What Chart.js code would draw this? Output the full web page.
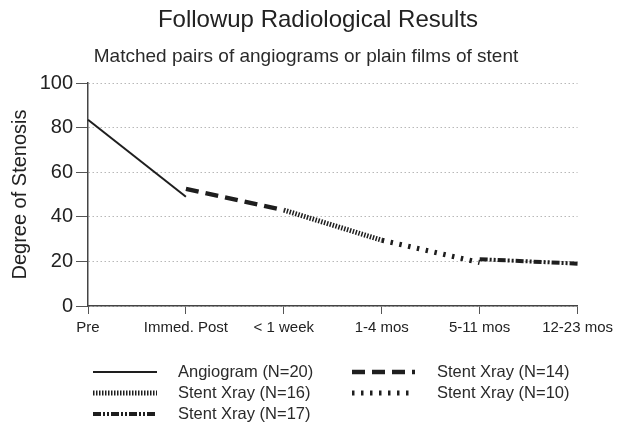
<!DOCTYPE html>
<html>
<head>
<meta charset="utf-8">
<script src="https://cdn.jsdelivr.net/npm/chart.js@4"></script>
<style>
  html, body { margin: 0; padding: 0; background: #fff; }
  #wrap { width: 618px; height: 437px; }
</style>
</head>
<body>
<div id="wrap"><canvas id="stenosisChart" width="618" height="437"></canvas></div>
<script>
/*====================================
        FOLLOWUP RADIOLOGICAL DATA
====================================*/

const periods = ["Pre", "Immed. Post", "< 1 week", "1-4 mos", "5-11 mos", "12-23 mos"];

const angiogram = [83.5, 49, null, null, null, null];
const stentXray14 = [null, 52.5, 43, null, null, null];
const stentXray16 = [null, null, 43, 29.5, null, null];
const stentXray10 = [null, null, null, 29.5, 19.5, null];
const stentXray17 = [null, null, null, null, 21, 19];

const yTicks = [0, 20, 40, 60, 80, 100];

const chartTitle = "Followup Radiological Results";
const chartSubtitle = "Matched pairs of angiograms or plain films of stent";

const FONT = "'Liberation Sans', Arial, sans-serif";
const INK = "#1e1e1e";


/*====================================
        TITLES (drawn, off-centre like the print)
====================================*/

const headings = {
    id: "headings",
    afterDraw(chart){
        const ctx = chart.ctx;
        ctx.save();
        ctx.textAlign = "center";
        ctx.textBaseline = "middle";
        ctx.fillStyle = "#222";
        ctx.font = "24px " + FONT;
        ctx.fillText(chartTitle, 318, 20);
        ctx.fillStyle = "#2a2a2a";
        ctx.font = "19px " + FONT;
        ctx.fillText(chartSubtitle, 306, 57);
        ctx.restore();
    }
};


/*====================================
        LEGEND (two columns, drawn)
====================================*/

const sideLegend = {
    id: "sideLegend",
    afterDraw(chart){
        const ctx = chart.ctx;
        const top = chart.chartArea.bottom + 66;
        const rowGap = 21;
        const cols = [{x: 93, w: 64, tx: 178}, {x: 352, w: 63, tx: 437}];

        chart.data.datasets.forEach((ds, i) => {
            const col = cols[i % 2];
            const y = top + Math.floor(i / 2) * rowGap;
            ctx.save();
            ctx.strokeStyle = ds.borderColor;
            ctx.lineWidth = ds.borderWidth;
            ctx.setLineDash(ds.borderDash || []);
            ctx.beginPath();
            ctx.moveTo(col.x, y);
            ctx.lineTo(col.x + col.w, y);
            ctx.stroke();
            ctx.setLineDash([]);
            ctx.fillStyle = "#2a2a2a";
            ctx.font = "16.5px " + FONT;
            ctx.textBaseline = "middle";
            ctx.fillText(ds.label, col.tx, y);
            ctx.restore();
        });
    }
};


/*====================================
            STENOSIS CHART
====================================*/

const lineStyle = (label, data, width, dash) => ({
    label: label,
    data: data,
    borderColor: INK,
    borderWidth: width,
    borderDash: dash,
    borderCapStyle: "butt",
    pointRadius: 0,
    tension: 0,
    spanGaps: false,
    fill: false
});

new Chart(document.getElementById("stenosisChart"), {
    type: "line",
    data: {
        labels: periods,
        datasets: [
            lineStyle("Angiogram (N=20)", angiogram, 2, []),
            lineStyle("Stent Xray (N=14)", stentXray14, 4.5, [13, 7]),
            lineStyle("Stent Xray (N=16)", stentXray16, 5, [1.5, 1.5]),
            lineStyle("Stent Xray (N=10)", stentXray10, 5, [2.5, 6.5]),
            lineStyle("Stent Xray (N=17)", stentXray17, 4, [8, 2, 2, 2, 2, 2])
        ]
    },
    options: {
        responsive: false,
        animation: false,
        layout: {
            padding: {left: 8, right: 38, top: 83, bottom: 91}
        },
        plugins: {
            legend: {display: false},
            tooltip: {enabled: false},
            title: {display: false}
        },
        scales: {
            x: {
                offset: false,
                grid: {
                    drawOnChartArea: false,
                    drawTicks: true,
                    tickLength: 8,
                    tickColor: "#555"
                },
                border: {display: true, color: "#444", width: 1.5},
                ticks: {
                    color: "#222",
                    font: {family: FONT, size: 15},
                    maxRotation: 0,
                    autoSkip: false,
                    padding: 5
                },
                afterFit(scale){ scale.height = 40; }
            },
            y: {
                min: 0,
                max: 100,
                afterBuildTicks(scale){
                    scale.ticks = yTicks.map(v => ({value: v}));
                },
                grid: {
                    color: "#b8b8b8",
                    tickLength: 12,
                    tickColor: "#555",
                    tickBorderDash: []
                },
                border: {display: true, color: "#444", width: 1.5, dash: [1.5, 2.5]},
                ticks: {
                    color: "#222",
                    font: {family: FONT, size: 20},
                    padding: 3
                },
                title: {
                    display: true,
                    text: "Degree of Stenosis",
                    color: "#222",
                    font: {family: FONT, size: 20},
                    padding: {top: 0, bottom: 2}
                },
                afterFit(scale){ scale.width = 80; }
            }
        }
    },
    plugins: [headings, sideLegend]
});
</script>
</body>
</html>
